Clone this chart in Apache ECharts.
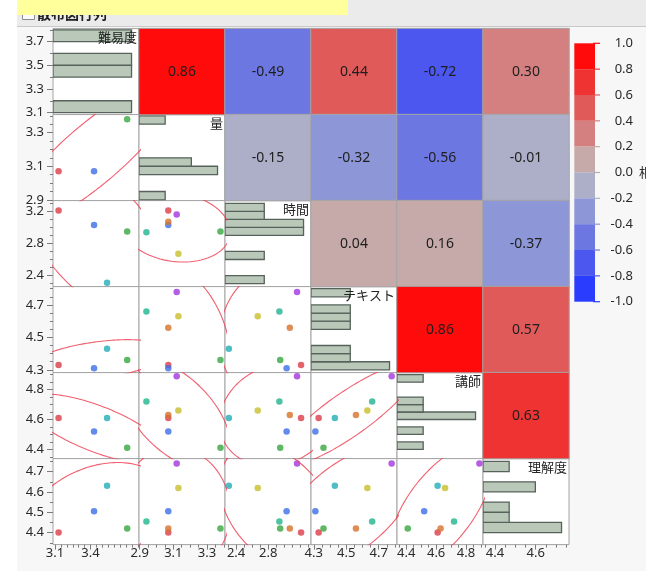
<!DOCTYPE html>
<html>
<head>
<meta charset="utf-8">
<script src="https://cdn.jsdelivr.net/npm/echarts@6/dist/echarts.min.js"></script>
<style>
  html, body { margin: 0; padding: 0; background: #fff; }
  #chart { width: 646px; height: 571px; }
</style>
</head>
<body>
<div id="chart"></div>
<script>
// Variables of the survey (one column each), one entry per respondent row
const variables = ['難易度', '量', '時間', 'テキスト', '講師', '理解度'];
const pointColors = ['#dc3c48', '#3c6ee6', '#36a63e', '#22acb6', '#20b48e', '#d4722a', '#a234dc', '#c8be2a'];

const difficulty    = [3.13, 3.43, 3.71, 3.54, null, null, null, null];
const amount        = [3.07, 3.07, 3.38, null, 2.94, 3.07, 3.12, 3.13];
const hours         = [3.21, 3.03, 2.95, 2.31, 2.94, 3.07, 3.16, 2.67];
const textbook      = [4.33, 4.31, 4.36, 4.43, 4.66, 4.56, 4.78, 4.63];
const instructor    = [4.61, 4.52, 4.41, 4.61, 4.72, 4.63, 4.89, 4.66];
const understanding = [4.40, 4.505, 4.42, 4.63, 4.455, 4.42, 4.74, 4.62];
const columns = [difficulty, amount, hours, textbook, instructor, understanding];

// Pairwise correlations, upper triangle row by row
const corrRow1 = [0.86, -0.49, 0.44, -0.72, 0.30];
const corrRow2 = [-0.15, -0.32, -0.56, -0.01];
const corrRow3 = [0.04, 0.16, -0.37];
const corrRow4 = [0.86, 0.57];
const corrRow5 = [0.63];
const correlations = [corrRow1, corrRow2, corrRow3, corrRow4, corrRow5];

// Axis ranges and tick labels per variable
const axisMin = [3.083, 2.896, 2.262, 4.283, 4.338, 4.341];
const axisMax = [3.81, 3.407, 3.334, 4.813, 4.914, 4.764];
const leftTickLabels = [[3.1, 3.3, 3.5, 3.7], [2.9, 3.1, 3.3], [2.4, 2.8, 3.2], [4.3, 4.5, 4.7], [4.4, 4.6, 4.8], [4.4, 4.5, 4.6, 4.7]];
const bottomTickLabels = [[3.1, 3.4], [2.9, 3.1, 3.3], [2.4, 2.8], [4.3, 4.5, 4.7], [4.4, 4.6, 4.8], [4.4, 4.6]];
const leftMinorStep = [0.1, 0.05, 0.1, 0.05, 0.05, 0.05];
const bottomMinorStep = [0.05, 0.05, 0.1, 0.05, 0.05, 0.05];

// Histogram binning
const binStart = [3.0, 2.9, 2.2, 4.3, 4.4, 4.4];
const binWidth = [0.1, 0.05, 0.1, 0.05, 0.05, 0.05];

// Colour scale of the correlation cells
const corrPieceMin = [0.8, 0.6, 0.4, 0.2, 0.0, -0.2, -0.4, -0.6, -0.8, -1.0];
const corrPieceColors = ['#ff0b0b', '#ef3333', '#e05a5a', '#d48080', '#c6a9a9', '#acafc7', '#8d96d6', '#6d77e2', '#4b57ef', '#2a3dff'];

// Layout
const L = 53, T = 28.6, S = 86;
const ELLIPSE_C = Math.sqrt(5.991); // 95% density ellipse (chi-square, 2 dof)
const FONT = '"Noto Sans", "Noto Sans CJK JP", sans-serif';
const FONT_JP = '"Noto Sans CJK JP", "Noto Sans", sans-serif';

const grids = [], xAxis = [], yAxis = [], series = [];

function cellRect(c, r) {
  return { left: L + c * S, top: T + r * S, width: S, height: S };
}
function addGrid(opt) {
  grids.push(Object.assign({ outerBoundsMode: 'none', containLabel: false }, opt));
  return grids.length - 1;
}
function addAxis(list, gridIndex, min, max, extra) {
  list.push(Object.assign({ type: 'value', gridIndex, min, max, scale: true, splitLine: { show: false } }, extra));
  return list.length - 1;
}
function histogram(values, start, width) {
  const counts = {};
  values.forEach(v => {
    if (v == null) return;
    const k = Math.floor((v - start) / width + 1e-9);
    counts[k] = (counts[k] || 0) + 1;
  });
  return Object.keys(counts).map(k => {
    const lo = start + Number(k) * width;
    return [lo, lo + width, counts[k]];
  });
}
function ellipse(xs, ys) {
  const px = [], py = [];
  xs.forEach((x, i) => { if (x != null && ys[i] != null) { px.push(x); py.push(ys[i]); } });
  const n = px.length;
  const mx = px.reduce((a, b) => a + b, 0) / n;
  const my = py.reduce((a, b) => a + b, 0) / n;
  let sxx = 0, syy = 0, sxy = 0;
  for (let i = 0; i < n; i++) {
    sxx += (px[i] - mx) ** 2; syy += (py[i] - my) ** 2; sxy += (px[i] - mx) * (py[i] - my);
  }
  sxx /= (n - 1); syy /= (n - 1); sxy /= (n - 1);
  const l11 = Math.sqrt(sxx), l21 = sxy / l11, l22 = Math.sqrt(Math.max(syy - l21 * l21, 0));
  const pts = [];
  for (let s = 0; s <= 180; s++) {
    const t = s / 180 * Math.PI * 2, u = Math.cos(t), v = Math.sin(t);
    pts.push([mx + ELLIPSE_C * l11 * u, my + ELLIPSE_C * (l21 * u + l22 * v)]);
  }
  return pts;
}
function minorTicks(min, max, step, majors) {
  const out = [];
  for (let k = Math.ceil(min / step - 1e-9); k * step <= max + 1e-9; k++) {
    const v = +(k * step).toFixed(4);
    if (!majors.some(m => Math.abs(m - v) < 1e-6)) out.push(v);
  }
  return out;
}
function histRender(params, api) {
  const lo = api.value(0), hi = api.value(1), cnt = api.value(2);
  const p0 = api.coord([0, hi]), p1 = api.coord([cnt, lo]);
  return {
    type: 'rect',
    shape: { x: p0[0], y: p0[1], width: p1[0] - p0[0], height: p1[1] - p0[1] },
    style: { fill: '#b9c8b9', stroke: '#56625a', lineWidth: 1.3 }
  };
}

// Scatter cells (lower triangle) and histograms (diagonal)
for (let r = 0; r < 6; r++) {
  for (let c = 0; c <= r; c++) {
    const g = addGrid(Object.assign(cellRect(c, r), {
      show: true, backgroundColor: '#ffffff', borderColor: '#a4a4a4', borderWidth: 1
    }));
    if (r === c) {
      const bins = histogram(columns[r], binStart[r], binWidth[r]);
      const maxCount = Math.max(...bins.map(b => b[2]));
      const xi = addAxis(xAxis, g, 0, maxCount * 1.095, { show: false });
      const yi = addAxis(yAxis, g, axisMin[r], axisMax[r], { show: false });
      series.push({ type: 'custom', xAxisIndex: xi, yAxisIndex: yi, data: bins, renderItem: histRender, silent: true, clip: true });
    } else {
      const xi = addAxis(xAxis, g, axisMin[c], axisMax[c], { show: false });
      const yi = addAxis(yAxis, g, axisMin[r], axisMax[r], { show: false });
      series.push({
        type: 'line', xAxisIndex: xi, yAxisIndex: yi, data: ellipse(columns[c], columns[r]),
        symbol: 'none', showSymbol: false, clip: true, silent: true,
        lineStyle: { color: 'rgba(238,66,86,0.85)', width: 1.1 }
      });
      const pts = [];
      columns[c].forEach((x, i) => {
        const y = columns[r][i];
        if (x != null && y != null) pts.push({ value: [x, y], itemStyle: { color: pointColors[i] } });
      });
      series.push({ type: 'scatter', xAxisIndex: xi, yAxisIndex: yi, data: pts, symbolSize: 6.5, silent: true, clip: true });
    }
  }
}

// Left axes (one per row) and bottom axes (one per column)
const tickLine = { color: '#7c7c7c', width: 1 };
const labelStyle = { fontSize: 13, color: '#2a2a2a', fontFamily: FONT };
for (let r = 0; r < 6; r++) {
  const g = addGrid(Object.assign(cellRect(0, r), { show: false }));
  addAxis(xAxis, g, 0, 1, { show: false });
  addAxis(yAxis, g, axisMin[r], axisMax[r], {
    position: 'left', axisLine: { show: false },
    axisTick: { show: true, length: 6, customValues: leftTickLabels[r], lineStyle: tickLine },
    axisLabel: Object.assign({ customValues: leftTickLabels[r], formatter: v => v.toFixed(1), margin: 9 }, labelStyle)
  });
  addAxis(yAxis, g, axisMin[r], axisMax[r], {
    position: 'left', offset: 0, axisLine: { show: false },
    axisTick: { show: true, length: 3, customValues: minorTicks(axisMin[r], axisMax[r], leftMinorStep[r], leftTickLabels[r]), lineStyle: tickLine },
    axisLabel: { show: false }
  });
}
for (let c = 0; c < 6; c++) {
  const g = addGrid(Object.assign(cellRect(c, 5), { show: false }));
  addAxis(yAxis, g, 0, 1, { show: false });
  addAxis(xAxis, g, axisMin[c], axisMax[c], {
    position: 'bottom', axisLine: { show: false },
    axisTick: { show: true, length: 5, customValues: bottomTickLabels[c], lineStyle: tickLine },
    axisLabel: Object.assign({ customValues: bottomTickLabels[c], formatter: v => v.toFixed(1), margin: 2 }, labelStyle)
  });
  addAxis(xAxis, g, axisMin[c], axisMax[c], {
    position: 'bottom', offset: 0, axisLine: { show: false },
    axisTick: { show: true, length: 3, customValues: minorTicks(axisMin[c], axisMax[c], bottomMinorStep[c], bottomTickLabels[c]), lineStyle: tickLine },
    axisLabel: { show: false }
  });
}

// Correlation cells (upper triangle)
const heatGrid = addGrid({ left: L, top: T, width: 6 * S, height: 6 * S, show: false });
const idx = ['0', '1', '2', '3', '4', '5'];
xAxis.push({ type: 'category', gridIndex: heatGrid, data: idx, show: false });
const hx = xAxis.length - 1;
yAxis.push({ type: 'category', gridIndex: heatGrid, data: idx, inverse: true, show: false });
const hy = yAxis.length - 1;
const heatData = [];
correlations.forEach((row, i) => row.forEach((v, k) => heatData.push([i + 1 + k, i, v])));
series.push({
  type: 'heatmap', xAxisIndex: hx, yAxisIndex: hy, data: heatData, silent: true,
  itemStyle: { borderColor: '#a4a4a4', borderWidth: 1 },
  label: { show: true, formatter: p => p.value[2].toFixed(2), fontSize: 14, color: '#1e1e1e', fontFamily: FONT },
  emphasis: { disabled: true }
});
const heatSeriesIndex = series.length - 1;

// Colour legend
const legGrid = addGrid({ left: 574.3, top: 43.3, width: 20.7, height: 258.4, show: false });
const lx = addAxis(xAxis, legGrid, 0, 1, { show: false });
const ly = addAxis(yAxis, legGrid, -1, 1, {
  interval: 0.2, position: 'right', axisLine: { show: false }, axisTick: { show: false },
  axisLabel: Object.assign({ formatter: v => (Math.abs(v) < 1e-9 ? 0 : v).toFixed(1), align: 'right', margin: 38 }, labelStyle)
});
series.push({
  type: 'custom', xAxisIndex: lx, yAxisIndex: ly, silent: true,
  data: corrPieceMin.map((m, i) => [m, m + 0.2, i]),
  renderItem: (params, api) => {
    const p0 = api.coord([0, api.value(1)]), p1 = api.coord([1, api.value(0)]);
    return { type: 'rect', shape: { x: p0[0], y: p0[1], width: p1[0] - p0[0], height: p1[1] - p0[1] },
             style: { fill: corrPieceColors[api.value(2)] } };
  }
});
const legendTicks = [1.0, 0.8, 0.6, 0.4, 0.2, 0.0, -0.2, -0.4, -0.6, -0.8, -1.0];
series.push({
  type: 'custom', xAxisIndex: lx, yAxisIndex: ly, silent: true,
  data: legendTicks.map(v => [v]),
  renderItem: (params, api) => {
    const v = api.value(0), p = api.coord([1, v]);
    let color = '#b0b0b0';
    if (v > 1e-9) color = corrPieceColors[corrPieceMin.findIndex(m => Math.abs(m - (v - 0.2)) < 1e-6)];
    if (v < -1e-9) color = corrPieceColors[corrPieceMin.findIndex(m => Math.abs(m - v) < 1e-6)];
    return { type: 'line', shape: { x1: p[0] - 2, y1: p[1], x2: p[0] + 5, y2: p[1] }, style: { stroke: color, lineWidth: 1.2 } };
  }
});

// Frame, header and variable names (drawn above the plot cells)
const graphics = [
  { type: 'rect', z: 100, shape: { x: 0, y: 0, width: 17, height: 571 }, style: { fill: '#ffffff' } },
  { type: 'rect', z: 100, shape: { x: 17, y: 0, width: 629, height: 26.5 }, style: { fill: '#ebebeb' } },
  { type: 'line', z: 100, shape: { x1: 17, y1: 26.5, x2: 646, y2: 26.5 }, style: { stroke: '#c9c9c9', lineWidth: 1 } },
  { type: 'rect', z: 100, shape: { x: 22.5, y: 8.5, width: 12, height: 11 }, style: { fill: '#fafafa', stroke: '#8c8c8c', lineWidth: 1 } },
  { type: 'text', z: 100, x: 37, y: 14, style: { text: '散布図行列', font: 'bold 14px ' + FONT_JP, fill: '#202020',
      textVerticalAlign: 'middle', verticalAlign: 'middle' } },
  { type: 'rect', z: 101, shape: { x: 17, y: 0, width: 331, height: 15 }, style: { fill: '#ffff9c' } },
  { type: 'text', z: 100, x: 639, y: 172.5, style: { text: '相関', font: '13px ' + FONT_JP, fill: '#2a2a2a',
      textVerticalAlign: 'middle', verticalAlign: 'middle' } }
];
variables.forEach((name, i) => {
  graphics.push({ type: 'text', z: 100, x: L + (i + 1) * S - 2, y: T + i * S + 2,
    style: { text: name, font: '13px ' + FONT_JP, fill: '#222222', textAlign: 'right', align: 'right',
             textVerticalAlign: 'top', verticalAlign: 'top' } });
});

const chart = echarts.init(document.getElementById('chart'));
chart.setOption({
  animation: false,
  backgroundColor: '#f7f7f7',
  textStyle: { fontFamily: FONT },
  grid: grids,
  xAxis: xAxis,
  yAxis: yAxis,
  visualMap: [{
    type: 'piecewise', show: false, seriesIndex: heatSeriesIndex, dimension: 2,
    pieces: corrPieceMin.map((m, i) => ({ gte: m, lt: m + 0.2 + (i === 0 ? 1e-6 : 0), color: corrPieceColors[i] }))
  }],
  graphic: { elements: graphics },
  series: series
});
</script>
</body>
</html>
